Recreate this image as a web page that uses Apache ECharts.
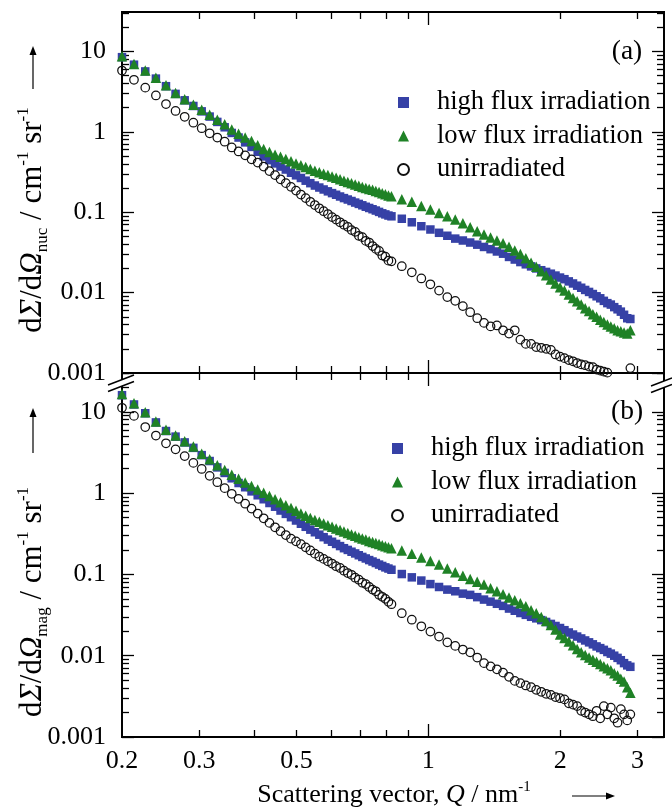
<!DOCTYPE html>
<html>
<head>
<meta charset="utf-8">
<title>SANS cross sections</title>
<script src="https://cdn.jsdelivr.net/npm/echarts@6.0.0/dist/echarts.min.js"></script>
<style>
  html, body { margin: 0; padding: 0; background: #fff; }
  #chart { width: 672px; height: 812px; }
</style>
</head>
<body>
<div id="chart"></div>
<script>
// Scattering vector Q (nm^-1): two detector settings
const qLow = [0.200,0.213,0.226,0.239,0.252,0.265,0.278,0.291,0.304,0.317,0.330,0.343,0.356,0.369,0.382,0.395,0.408,0.421,0.434,0.447,0.460,0.473,0.486,0.499,0.512,0.525,0.538,0.551,0.564,0.577,0.590,0.603,0.616,0.629,0.642,0.655,0.668,0.681,0.694,0.707,0.720,0.733,0.746,0.759,0.772,0.785,0.798,0.811,0.824];
const qHigh = [0.870,0.917,0.964,1.011,1.058,1.105,1.152,1.199,1.246,1.293,1.340,1.387,1.434,1.481,1.528,1.575,1.622,1.669,1.716,1.763,1.810,1.857,1.904,1.951,1.998,2.045,2.092,2.139,2.186,2.233,2.280,2.327,2.374,2.421,2.468,2.515,2.562,2.609,2.656,2.703,2.750,2.797,2.844,2.891];

// (a) nuclear cross section, cm^-1 sr^-1
const nucHighFlux = [8.5,6.85,5.65,4.6,3.7,2.97,2.47,2.1,1.8,1.55,1.33,1.14,0.97,0.85,0.74,0.65,0.565,0.495,0.445,0.405,0.37,0.34,0.31,0.288,0.267,0.247,0.23,0.215,0.203,0.192,0.182,0.173,0.165,0.157,0.15,0.144,0.138,0.132,0.127,0.122,0.117,0.113,0.109,0.105,0.101,0.097,0.094,0.091,0.089,
  0.083,0.075,0.067,0.061,0.0555,0.051,0.047,0.0445,0.042,0.0395,0.037,0.0347,0.0325,0.0305,0.0278,0.0258,0.024,0.0225,0.0212,0.02,0.019,0.0181,0.0172,0.0163,0.0154,0.0147,0.0138,0.013,0.0122,0.0115,0.0108,0.0102,0.0096,0.009,0.0085,0.0079,0.0074,0.0071,0.0066,0.0062,0.0058,0.0053,0.0048,0.0047];
const nucLowFlux = [8.7,7.0,5.8,4.7,3.8,3.05,2.55,2.17,1.88,1.63,1.42,1.24,1.07,0.95,0.85,0.77,0.68,0.61,0.56,0.52,0.49,0.46,0.43,0.405,0.385,0.365,0.345,0.328,0.315,0.302,0.29,0.278,0.268,0.257,0.247,0.238,0.229,0.221,0.213,0.206,0.2,0.195,0.19,0.184,0.178,0.172,0.167,0.162,0.158,
  0.145,0.135,0.12,0.108,0.098,0.089,0.081,0.073,0.065,0.058,0.053,0.0485,0.0445,0.041,0.0373,0.0335,0.0302,0.0268,0.0235,0.021,0.0185,0.0165,0.0146,0.013,0.0117,0.0106,0.0095,0.0086,0.0078,0.0071,0.0064,0.0059,0.0054,0.005,0.0046,0.0043,0.004,0.0038,0.0036,0.0034,0.0033,0.0032,0.0031,0.0034];
const nucUnirr = [5.8,4.45,3.55,2.84,2.22,1.82,1.54,1.3,1.11,0.96,0.85,0.755,0.64,0.57,0.51,0.455,0.415,0.37,0.325,0.29,0.257,0.23,0.207,0.186,0.166,0.15,0.135,0.123,0.112,0.103,0.095,0.087,0.081,0.075,0.07,0.066,0.06,0.057,0.051,0.049,0.044,0.042,0.038,0.035,0.033,0.029,0.028,0.025,0.0245,
  0.0213,0.0179,0.015,0.0127,0.0106,0.0088,0.0079,0.0068,0.0057,0.0048,0.0042,0.0038,0.0039,0.0034,0.0031,0.0034,0.0026,0.0023,0.0023,0.0021,0.00206,0.002,0.00194,0.0017,0.0016,0.00153,0.00145,0.0014,0.00133,0.00128,0.00125,0.0012,0.00118,0.0011,0.00107,0.00104,0.00101,0.00098,0.00095,0.00092,0.00096,0.00085,0.00098,0.00115];

// (b) magnetic cross section, cm^-1 sr^-1
const magHighFlux = [16.0,12.3,9.6,7.4,5.8,4.95,4.2,3.6,2.93,2.48,2.07,1.77,1.52,1.33,1.18,1.05,0.94,0.84,0.755,0.68,0.61,0.555,0.505,0.46,0.42,0.385,0.355,0.33,0.308,0.287,0.268,0.252,0.237,0.223,0.21,0.2,0.19,0.181,0.172,0.164,0.157,0.15,0.144,0.138,0.132,0.127,0.122,0.118,0.114,
  0.101,0.092,0.084,0.076,0.07,0.065,0.062,0.058,0.056,0.0525,0.049,0.0462,0.0435,0.041,0.038,0.0357,0.0335,0.0318,0.0301,0.0288,0.0274,0.026,0.0246,0.0232,0.0219,0.0206,0.0193,0.0182,0.0172,0.0163,0.0154,0.0146,0.0138,0.013,0.0124,0.0118,0.0111,0.0106,0.01,0.0094,0.0088,0.0081,0.0076,0.0073];
const magLowFlux = [16.5,12.7,9.9,7.6,6.0,5.1,4.35,3.75,3.05,2.6,2.2,1.92,1.68,1.5,1.35,1.22,1.11,1.01,0.92,0.84,0.77,0.71,0.655,0.605,0.56,0.525,0.495,0.468,0.445,0.422,0.402,0.385,0.368,0.352,0.337,0.323,0.31,0.298,0.287,0.277,0.268,0.258,0.25,0.243,0.236,0.229,0.222,0.216,0.21,
  0.197,0.18,0.161,0.146,0.132,0.118,0.106,0.096,0.0875,0.081,0.075,0.0675,0.062,0.057,0.052,0.048,0.0443,0.0405,0.0363,0.0333,0.030,0.0268,0.0238,0.021,0.0182,0.0165,0.0149,0.0134,0.0121,0.011,0.0102,0.0095,0.0089,0.0084,0.0079,0.0074,0.0070,0.0066,0.0061,0.0057,0.0052,0.0048,0.0041,0.0035];
const magUnirr = [11.2,8.9,6.5,5.1,4.1,3.45,2.85,2.35,1.98,1.63,1.36,1.15,0.98,0.85,0.74,0.645,0.56,0.49,0.43,0.38,0.34,0.305,0.275,0.255,0.236,0.215,0.197,0.18,0.166,0.155,0.145,0.136,0.126,0.12,0.111,0.104,0.099,0.091,0.086,0.079,0.076,0.07,0.065,0.062,0.056,0.053,0.05,0.046,0.043,
  0.0333,0.0277,0.023,0.0198,0.0172,0.0146,0.0132,0.0119,0.011,0.0095,0.0081,0.0074,0.0068,0.0062,0.0055,0.0049,0.0046,0.0043,0.0041,0.0038,0.0036,0.0034,0.0033,0.0031,0.003,0.0029,0.0026,0.0025,0.0024,0.0021,0.002,0.0019,0.0018,0.0021,0.0017,0.0024,0.0019,0.0023,0.0017,0.0015,0.0022,0.0019,0.0016,0.0019];

const seriesNames = ['high flux irradiation', 'low flux irradiation', 'unirradiated'];

// Axis ticks and labels
const xLabelValues = [0.2, 0.3, 0.5, 1, 2, 3];
const xLabelTexts = ['0.2', '0.3', '0.5', '1', '2', '3'];
const xMajorTicks = [1];
const xMinorTicks = [0.3, 0.4, 0.5, 0.6, 0.7, 0.8, 0.9, 2, 3];
const yLabelValues = [0.001, 0.01, 0.1, 1, 10];
const yLabelTexts = ['0.001', '0.01', '0.1', '1', '10'];
const yMinorTicks = [];
yLabelValues.forEach(function (d) {
  for (let m = 2; m <= 9; m++) yMinorTicks.push(+(m * d).toPrecision(3));
});

const FONT = 'Liberation Serif';
const BLUE = '#3641a6';
const GREEN = '#1f8226';
const X_MIN = 0.2, X_MAX = 3.45;
const Y_MIN = 0.001, Y_MAX_A = 31, Y_MAX_B = 30;

const Q = qLow.concat(qHigh);
const pairs = ys => Q.map((q, i) => [q, ys[i]]);

function labelFormatter(values, texts) {
  return function (v) {
    for (let i = 0; i < values.length; i++) {
      if (Math.abs(Math.log10(v) - Math.log10(values[i])) < 1e-6) return texts[i];
    }
    return '';
  };
}

const lineStyle = { color: '#000', width: 1.8 };
const tickStyle = { color: '#000', width: 1.3 };
const labelFont = { fontFamily: FONT, fontSize: 26, color: '#000' };
const legendFont = { fontFamily: FONT, fontSize: 26.5, color: '#000' };

function xAxis(grid, position, ticks, length, withLabels) {
  return {
    type: 'log', logBase: 10, gridIndex: grid, position: position,
    min: X_MIN, max: X_MAX,
    axisLine: { show: true, lineStyle: lineStyle },
    axisTick: { show: true, inside: true, length: length, customValues: ticks, lineStyle: tickStyle },
    axisLabel: withLabels
      ? Object.assign({ show: true, customValues: xLabelValues, margin: 11,
          formatter: labelFormatter(xLabelValues, xLabelTexts) }, labelFont)
      : { show: false },
    splitLine: { show: false }, minorTick: { show: false }, minorSplitLine: { show: false }
  };
}

function yAxis(grid, position, yMax, ticks, length, withLabels) {
  return {
    type: 'log', logBase: 10, gridIndex: grid, position: position,
    min: Y_MIN, max: yMax,
    axisLine: { show: true, lineStyle: lineStyle },
    axisTick: { show: true, inside: true, length: length, customValues: ticks, lineStyle: tickStyle },
    axisLabel: withLabels
      ? Object.assign({ show: true, customValues: yLabelValues, margin: 16,
          formatter: labelFormatter(yLabelValues, yLabelTexts) }, labelFont)
      : { show: false },
    splitLine: { show: false }, minorTick: { show: false }, minorSplitLine: { show: false }
  };
}

function scatter(grid, name, ys) {
  const base = { type: 'scatter', name: name, xAxisIndex: grid * 4, yAxisIndex: grid * 4,
    data: pairs(ys), animation: false, clip: true, emphasis: { disabled: true } };
  if (name === seriesNames[0]) {
    return Object.assign(base, { symbol: 'rect', symbolSize: 8.5, itemStyle: { color: BLUE, opacity: 1 } });
  }
  if (name === seriesNames[1]) {
    return Object.assign(base, { symbol: 'triangle', symbolSize: 10.5, itemStyle: { color: GREEN, opacity: 1 } });
  }
  return Object.assign(base, { symbol: 'circle', symbolSize: 8.5,
    itemStyle: { color: 'rgba(255,255,255,0)', borderColor: '#111', borderWidth: 1.25, opacity: 1 } });
}

function legend(left, top) {
  return {
    left: left, top: top, orient: 'vertical', padding: 0,
    itemWidth: 11, itemHeight: 11, itemGap: 6.5, selectedMode: false,
    textStyle: Object.assign({ padding: [0, 0, 0, 23] }, legendFont), data: seriesNames
  };
}

// Rich text pieces for the axis titles
const yRich = {
  r: { fontFamily: FONT, fontSize: 31, color: '#000', lineHeight: 36 },
  i: { fontFamily: FONT, fontSize: 31, fontStyle: 'italic', color: '#000', lineHeight: 36 },
  sub: { fontFamily: FONT, fontSize: 17, color: '#000', verticalAlign: 'bottom', lineHeight: 17 },
  sup: { fontFamily: FONT, fontSize: 17, color: '#000', verticalAlign: 'top', lineHeight: 17 }
};
const xRich = {
  r: { fontFamily: FONT, fontSize: 26, color: '#000', lineHeight: 30 },
  i: { fontFamily: FONT, fontSize: 26, fontStyle: 'italic', color: '#000', lineHeight: 30 },
  sup: { fontFamily: FONT, fontSize: 15, color: '#000', verticalAlign: 'top', lineHeight: 15 }
};
const yTitle = sub => '{r|d}{i|Σ}{r|/d}{i|Ω}{sub|' + sub + '}{r| / cm}{sup|-1}{r| sr}{sup|-1}';
const xTitle = '{r|Scattering vector, }{i|Q}{r| / nm}{sup|-1}';

function titleText(x, y, text, rich, rotation) {
  return { type: 'text', x: x, y: y, rotation: rotation, z: 100,
    style: { text: text, rich: rich, align: 'center', verticalAlign: 'middle' } };
}
function plainText(x, y, text) {
  return { type: 'text', x: x, y: y, z: 100,
    style: { text: text, fontFamily: FONT, fontSize: 27.5, fill: '#000', align: 'center', verticalAlign: 'middle' } };
}
function arrowUp(x, yFrom, yTo) {
  return [
    { type: 'line', z: 100, shape: { x1: x, y1: yFrom, x2: x, y2: yTo + 6 }, style: { stroke: '#000', lineWidth: 1.2 } },
    { type: 'polygon', z: 100, shape: { points: [[x, yTo], [x - 3.5, yTo + 9], [x + 3.5, yTo + 9]] }, style: { fill: '#000' } }
  ];
}
function arrowRight(y, xFrom, xTo) {
  return [
    { type: 'line', z: 100, shape: { x1: xFrom, y1: y, x2: xTo - 6, y2: y }, style: { stroke: '#000', lineWidth: 1.2 } },
    { type: 'polygon', z: 100, shape: { points: [[xTo, y], [xTo - 9, y - 3.5], [xTo - 9, y + 3.5]] }, style: { fill: '#000' } }
  ];
}
// Axis-break symbol "//" across a vertical spine
function axisBreak(x0, x1, yLeft, yRight, gap) {
  return [
    { type: 'polygon', z: 101, shape: { points: [[x0, yLeft], [x1, yRight], [x1, yRight + gap], [x0, yLeft + gap]] },
      style: { fill: '#fff' } },
    { type: 'line', z: 102, shape: { x1: x0, y1: yLeft, x2: x1, y2: yRight }, style: { stroke: '#000', lineWidth: 1.5 } },
    { type: 'line', z: 102, shape: { x1: x0, y1: yLeft + gap, x2: x1, y2: yRight + gap }, style: { stroke: '#000', lineWidth: 1.5 } }
  ];
}

const option = {
  backgroundColor: '#fff',
  animation: false,
  grid: [
    { left: 122, top: 12, width: 542, height: 361 },
    { left: 122, top: 373, width: 542, height: 364 }
  ],
  xAxis: [
    xAxis(0, 'bottom', xMajorTicks, 13, false),
    xAxis(0, 'bottom', xMinorTicks, 7, false),
    xAxis(0, 'top', xMajorTicks, 13, false),
    xAxis(0, 'top', xMinorTicks, 7, false),
    xAxis(1, 'bottom', xMajorTicks, 13, true),
    xAxis(1, 'bottom', xMinorTicks, 7, false),
    xAxis(1, 'top', xMajorTicks, 13, false),
    xAxis(1, 'top', xMinorTicks, 7, false)
  ],
  yAxis: [
    yAxis(0, 'left', Y_MAX_A, yLabelValues, 12, true),
    yAxis(0, 'left', Y_MAX_A, yMinorTicks, 7, false),
    yAxis(0, 'right', Y_MAX_A, yLabelValues, 12, false),
    yAxis(0, 'right', Y_MAX_A, yMinorTicks, 7, false),
    yAxis(1, 'left', Y_MAX_B, yLabelValues, 12, true),
    yAxis(1, 'left', Y_MAX_B, yMinorTicks, 7, false),
    yAxis(1, 'right', Y_MAX_B, yLabelValues, 12, false),
    yAxis(1, 'right', Y_MAX_B, yMinorTicks, 7, false)
  ],
  legend: [legend(397, 89), legend(391, 435)],
  series: [
    scatter(0, seriesNames[0], nucHighFlux),
    scatter(0, seriesNames[1], nucLowFlux),
    scatter(0, seriesNames[2], nucUnirr),
    scatter(1, seriesNames[0], magHighFlux),
    scatter(1, seriesNames[1], magLowFlux),
    scatter(1, seriesNames[2], magUnirr)
  ],
  graphic: [].concat(
    [titleText(33, 220, yTitle('nuc'), yRich, Math.PI / 2),
     titleText(33, 602, yTitle('mag'), yRich, Math.PI / 2),
     titleText(394, 795, xTitle, xRich, 0),
     plainText(627, 52, '(a)'),
     plainText(627, 412, '(b)')],
    arrowUp(33, 89, 46),
    arrowUp(33, 453, 408),
    arrowRight(796, 572, 615),
    axisBreak(108, 134, 385, 375, 6.5),
    axisBreak(651, 672, 386, 378, 6.5)
  )
};

const chart = echarts.init(document.getElementById('chart'), null, { renderer: 'canvas' });
chart.setOption(option);
</script>
</body>
</html>
